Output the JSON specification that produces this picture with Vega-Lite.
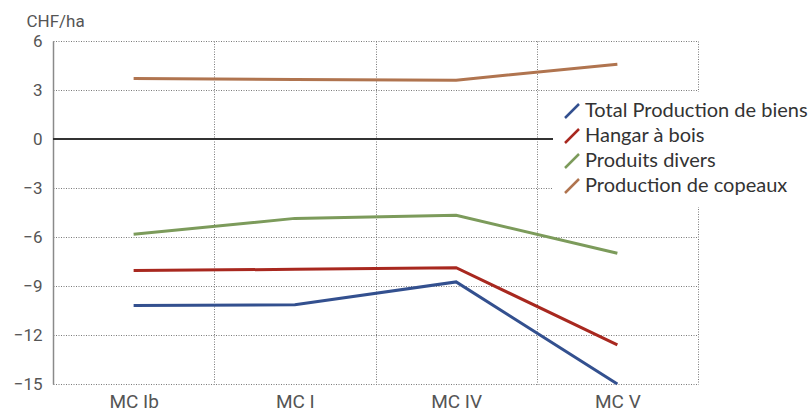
{
  "$schema": "https://vega.github.io/schema/vega-lite/v6.json",
  "width": 645,
  "height": 343,
  "autosize": {"type": "none"},
  "padding": {"left": 53, "top": 41, "right": 111, "bottom": 30},
  "background": "white",
  "data": {
    "values": [
      {"scenario": "MC Ib", "serie": "Total Production de biens", "value": -10.2},
      {"scenario": "MC I", "serie": "Total Production de biens", "value": -10.15},
      {"scenario": "MC IV", "serie": "Total Production de biens", "value": -8.75},
      {"scenario": "MC V", "serie": "Total Production de biens", "value": -15},
      {"scenario": "MC Ib", "serie": "Hangar à bois", "value": -8.05},
      {"scenario": "MC I", "serie": "Hangar à bois", "value": -7.98},
      {"scenario": "MC IV", "serie": "Hangar à bois", "value": -7.88},
      {"scenario": "MC V", "serie": "Hangar à bois", "value": -12.6},
      {"scenario": "MC Ib", "serie": "Produits divers", "value": -5.83},
      {"scenario": "MC I", "serie": "Produits divers", "value": -4.86},
      {"scenario": "MC IV", "serie": "Produits divers", "value": -4.67},
      {"scenario": "MC V", "serie": "Produits divers", "value": -7.0},
      {"scenario": "MC Ib", "serie": "Production de copeaux", "value": 3.7},
      {"scenario": "MC I", "serie": "Production de copeaux", "value": 3.65},
      {"scenario": "MC IV", "serie": "Production de copeaux", "value": 3.6},
      {"scenario": "MC V", "serie": "Production de copeaux", "value": 4.58}
    ]
  },
  "config": {
    "view": {"stroke": null},
    "axis": {
      "gridColor": "#7a7a7a",
      "gridDash": [1, 1.5],
      "gridWidth": 1,
      "ticks": false,
      "labelColor": "#555555",
      "labelFont": "Roboto",
      "titleFont": "Roboto",
      "titleFontWeight": "normal"
    },
    "legend": {
      "labelFont": "Lato",
      "labelColor": "#333333"
    }
  },
  "layer": [
    {
      "mark": {"type": "line", "strokeWidth": 3, "strokeCap": "butt", "strokeJoin": "miter"},
      "encoding": {
        "x": {
          "field": "scenario",
          "type": "nominal",
          "sort": ["MC Ib", "MC I", "MC IV", "MC V"],
          "bandPosition": 0.5,
          "scale": {"type": "band", "paddingInner": 0, "paddingOuter": 0},
          "axis": {
            "title": null,
            "grid": true,
            "tickBand": "extent",
            "domain": false,
            "labelAngle": 0,
            "labelFontSize": 19,
            "labelPadding": 8
          }
        },
        "y": {
          "field": "value",
          "type": "quantitative",
          "scale": {"domain": [-15, 6], "nice": false, "zero": false},
          "axis": {
            "values": [-15, -12, -9, -6, -3, 0, 3, 6],
            "grid": true,
            "domain": true,
            "domainColor": "#8a8a8a",
            "domainWidth": 1.5,
            "labelFontSize": 17,
            "labelPadding": 11,
            "title": "CHF/ha",
            "titleAngle": 0,
            "titleAlign": "left",
            "titleBaseline": "alphabetic",
            "titleX": -27,
            "titleY": -15,
            "titleFontSize": 17,
            "titleColor": "#555555"
          }
        },
        "color": {
          "field": "serie",
          "type": "nominal",
          "scale": {
            "domain": ["Total Production de biens", "Hangar à bois", "Produits divers", "Production de copeaux"],
            "range": ["#33508f", "#a8281f", "#7c9b5b", "#b0744f"]
          },
          "legend": {
            "title": null,
            "orient": "none",
            "legendX": 500,
            "legendY": 51,
            "fillColor": "white",
            "padding": 9,
            "symbolType": "M -1 1 L 1 -1",
            "symbolSize": 196,
            "symbolStrokeWidth": 2.5,
            "labelFontSize": 20,
            "labelOffset": 3,
            "labelLimit": 320,
            "rowPadding": 1
          }
        }
      }
    },
    {
      "mark": {"type": "rule", "color": "#333333", "strokeWidth": 1.3},
      "encoding": {"y": {"datum": 0}}
    }
  ]
}
